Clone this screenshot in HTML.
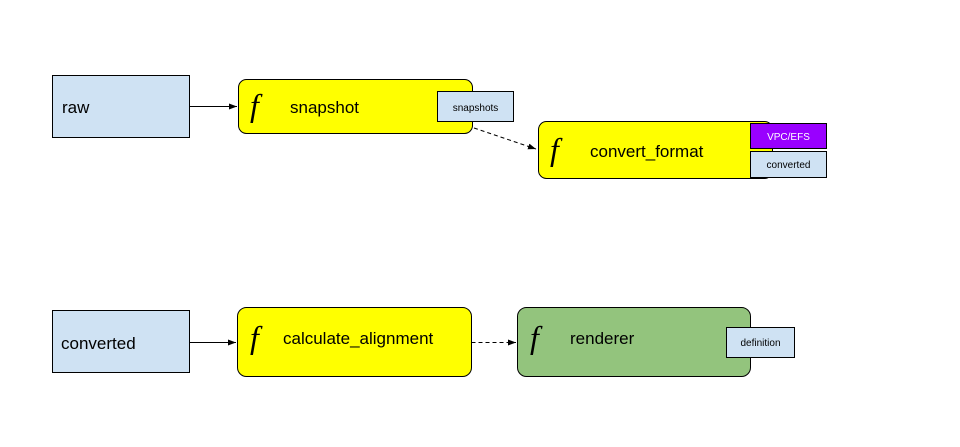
<!DOCTYPE html>
<html><head><meta charset="utf-8"><style>
html,body{margin:0;padding:0;background:#fff;}
svg{display:block;}
text{font-family:"Liberation Sans",sans-serif;fill:#000;}
.f{font-family:"Liberation Serif",serif;font-style:italic;font-size:32px;}
</style></head><body>
<svg width="960" height="447" viewBox="0 0 960 447" xmlns="http://www.w3.org/2000/svg">
<defs>
<marker id="a" markerWidth="8" markerHeight="6" refX="8" refY="3" orient="auto" markerUnits="userSpaceOnUse">
<path d="M0,0 L8,3 L0,6 z" fill="#000"/></marker>
</defs>
<rect width="960" height="447" fill="#fff"/>
<!-- top row -->
<rect x="52.5" y="75.5" width="137" height="62" fill="#cfe2f3" stroke="#000"/>
<text x="62" y="113" font-size="17">raw</text>
<line x1="189.5" y1="106.5" x2="237" y2="106.5" stroke="#000" marker-end="url(#a)"/>
<rect x="238.5" y="79.5" width="234" height="54" rx="8" fill="#ffff00" stroke="#000"/>
<text class="f" x="250" y="116">f</text>
<text x="290" y="113" font-size="17">snapshot</text>
<rect x="437.5" y="91.5" width="76" height="30" fill="#cfe2f3" stroke="#000"/>
<text x="475.5" y="111" font-size="10" text-anchor="middle">snapshots</text>
<line x1="474" y1="128" x2="536" y2="149" stroke="#000" stroke-dasharray="4,3" marker-end="url(#a)"/>
<rect x="538.5" y="121.5" width="234" height="57" rx="8" fill="#ffff00" stroke="#000"/>
<text class="f" x="550" y="160">f</text>
<text x="590" y="157" font-size="17">convert_format</text>
<rect x="750.5" y="123.5" width="76" height="25" fill="#9900ff" stroke="#000"/>
<text x="788.5" y="140" font-size="10" text-anchor="middle" style="fill:#fff">VPC/EFS</text>
<rect x="750.5" y="151.5" width="76" height="26" fill="#cfe2f3" stroke="#000"/>
<text x="788.5" y="168" font-size="10" text-anchor="middle">converted</text>
<!-- bottom row -->
<rect x="52.5" y="310.5" width="137" height="62" fill="#cfe2f3" stroke="#000"/>
<text x="61" y="349" font-size="17">converted</text>
<line x1="189.5" y1="342.5" x2="236" y2="342.5" stroke="#000" marker-end="url(#a)"/>
<rect x="237.5" y="307.5" width="234" height="69" rx="9" fill="#ffff00" stroke="#000"/>
<text class="f" x="250" y="348">f</text>
<text x="283" y="344" font-size="17">calculate_alignment</text>
<line x1="471.5" y1="342.5" x2="516" y2="342.5" stroke="#000" stroke-dasharray="4,3" marker-end="url(#a)"/>
<rect x="517.5" y="307.5" width="233" height="69" rx="9" fill="#93c47d" stroke="#000"/>
<text class="f" x="530" y="348">f</text>
<text x="570" y="344" font-size="17">renderer</text>
<rect x="726.5" y="327.5" width="68" height="30" fill="#cfe2f3" stroke="#000"/>
<text x="760.5" y="346" font-size="10" text-anchor="middle">definition</text>
</svg>
</body></html>
